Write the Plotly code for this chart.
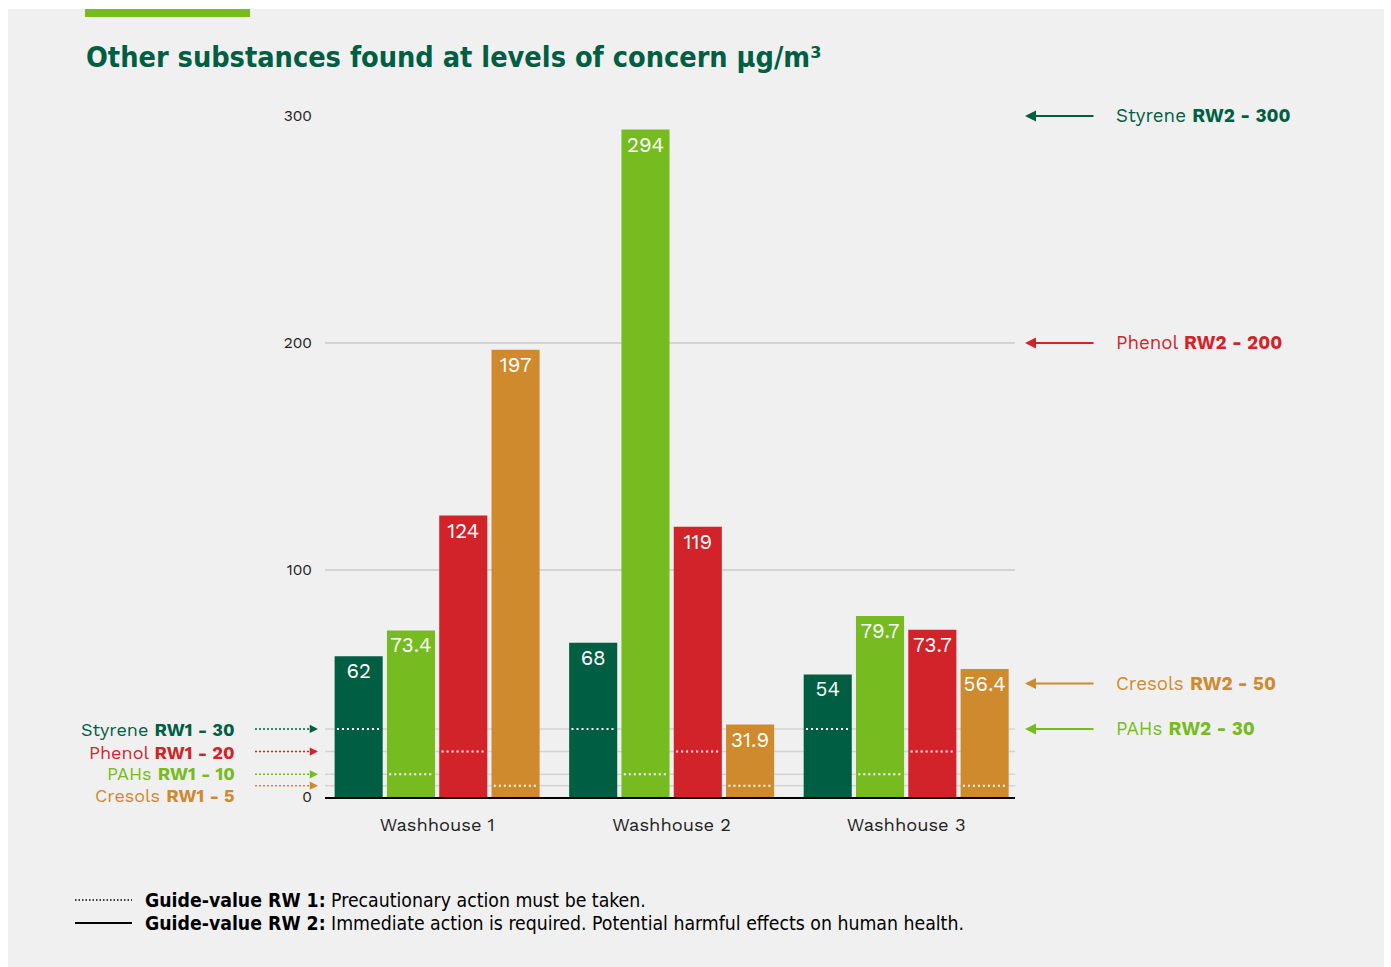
import plotly.graph_objects as go

# ---- data -------------------------------------------------------------
washhouses = ["Washhouse 1", "Washhouse 2", "Washhouse 3"]
substances = ["Styrene", "PAHs", "Phenol", "Cresols"]
styrene = [62, 68, 54]
pahs = [73.4, 294, 79.7]
phenol = [124, 119, 73.7]
cresols = [197, 31.9, 56.4]
values = [styrene, pahs, phenol, cresols]

# guide values (µg/m³)
rw1 = [30, 10, 20, 5]      # precautionary
rw2 = [300, 30, 200, 50]   # immediate action

colors = ["#005e42", "#76bc21", "#d2232a", "#d08a2e"]
y_ticks = [0, 100, 200, 300]

# ---- geometry helpers ---------------------------------------------------
BAR_W = 0.205
SLOT = 0.223
FIRST = -(3 * SLOT + BAR_W) / 2

BODY = "Work Sans, Inter, Open Sans, sans-serif"
COND = "Liberation Sans Narrow, DejaVu Sans Condensed, Roboto, sans-serif"

L, R, T, B = 325, 376, 116, 170
W, H = 1391, 967
PW = W - L - R


def px_to_paper_x(px):
    return (px - L) / PW


def px_to_paper_y(py):
    return (H - py - B) / (H - T - B)


fig = go.Figure()

cat_idx = list(range(len(washhouses)))
for i, (name, vals, col) in enumerate(zip(substances, values, colors)):
    fig.add_trace(go.Bar(
        x=cat_idx, y=vals, name=name,
        width=BAR_W, offset=FIRST + i * SLOT,
        marker=dict(color=col, line=dict(width=0)),
        text=[f"{v:g}" for v in vals],
        textposition="inside", insidetextanchor="end",
        textangle=0, constraintext="none",
        textfont=dict(color="white", size=20.5, family=BODY),
        showlegend=False, hoverinfo="skip",
    ))

shapes = []
annotations = []

# gray panel + green accent strip
shapes.append(dict(type="rect", xref="paper", yref="paper", layer="below",
                   x0=px_to_paper_x(8), x1=px_to_paper_x(1384),
                   y0=px_to_paper_y(H), y1=px_to_paper_y(9),
                   fillcolor="#f0f0f0", line=dict(width=0)))
shapes.append(dict(type="rect", xref="paper", yref="paper", layer="above",
                   x0=px_to_paper_x(85), x1=px_to_paper_x(250),
                   y0=px_to_paper_y(17), y1=px_to_paper_y(9),
                   fillcolor="#76bc21", line=dict(width=0)))

# light gridlines for the RW1 levels
for lvl in sorted(set(rw1)):
    shapes.append(dict(type="line", xref="paper", yref="y", layer="below",
                       x0=0, x1=1, y0=lvl, y1=lvl,
                       line=dict(color="#d3d3d3", width=1.5)))

# dotted RW1 marks inside every bar of the matching substance
for i, lvl in enumerate(rw1):
    for c in cat_idx:
        x0 = c + FIRST + i * SLOT
        shapes.append(dict(type="line", xref="x", yref="y", layer="above",
                           x0=x0 + 0.01, x1=x0 + BAR_W - 0.01, y0=lvl, y1=lvl,
                           line=dict(color="white", width=2, dash="2px,3px")))

# left-hand RW1 labels with dotted arrows
left_shift = [-1, 1, -1, -10]
order = [0, 2, 1, 3]  # Styrene, Phenol, PAHs, Cresols
for i in order:
    lvl, col, name = rw1[i], colors[i], substances[i]
    shapes.append(dict(type="line", xref="paper", yref="y",
                       x0=px_to_paper_x(255), x1=px_to_paper_x(312),
                       y0=lvl, y1=lvl,
                       line=dict(color=col, width=1.5, dash="2px,2px")))
    annotations.append(dict(xref="paper", yref="y", x=px_to_paper_x(318), y=lvl,
                            ax=-6, ay=0, text="", showarrow=True,
                            arrowhead=2, arrowsize=1.1, arrowwidth=1.5,
                            arrowcolor=col, standoff=0))
    annotations.append(dict(xref="paper", yref="y", x=px_to_paper_x(237), y=lvl,
                            xanchor="right", yanchor="middle", showarrow=False,
                            yshift=left_shift[i],
                            text=f"{name} <b>RW1 - {lvl}</b>",
                            font=dict(color=col, size=18, family=BODY)))

# right-hand RW2 labels with solid arrows
for i, (lvl, col, name) in enumerate(zip(rw2, colors, substances)):
    annotations.append(dict(xref="paper", yref="y", x=px_to_paper_x(1025), y=lvl,
                            ax=70, ay=0, text="", showarrow=True,
                            arrowhead=2, arrowsize=1.1, arrowwidth=2,
                            arrowcolor=col, standoff=0))
    annotations.append(dict(xref="paper", yref="y", x=px_to_paper_x(1114), y=lvl,
                            xanchor="left", yanchor="middle", showarrow=False,
                            text=f"{name} <b>RW2 - {lvl}</b>",
                            font=dict(color=col, size=18.7, family=BODY)))

# title
annotations.append(dict(xref="paper", yref="paper",
                        x=px_to_paper_x(84), y=px_to_paper_y(57),
                        xanchor="left", yanchor="middle", showarrow=False,
                        text="<b>Other substances found at levels of concern µg/m³</b>",
                        font=dict(color="#005e42", size=28.6, family=COND)))

# guide-value key
key_rows = [
    (900, "dot", "<b>Guide-value RW 1:</b> Precautionary action must be taken."),
    (923, "solid", "<b>Guide-value RW 2:</b> Immediate action is required. "
                   "Potential harmful effects on human health."),
]
for ypx, dash, txt in key_rows:
    yp = px_to_paper_y(ypx)
    shapes.append(dict(type="line", xref="paper", yref="paper",
                       x0=px_to_paper_x(75), x1=px_to_paper_x(132), y0=yp, y1=yp,
                       line=dict(color="black", width=1.5 if dash == "dot" else 2,
                                 dash="1.5px,2px" if dash == "dot" else "solid")))
    annotations.append(dict(xref="paper", yref="paper", x=px_to_paper_x(143), y=yp,
                            xanchor="left", yanchor="middle", showarrow=False,
                            text=txt, font=dict(color="black", size=19.3, family=COND)))

fig.update_layout(
    width=W, height=H,
    margin=dict(l=L, r=R, t=T, b=B, pad=0),
    paper_bgcolor="white",
    plot_bgcolor="rgba(0,0,0,0)",
    barmode="overlay",
    shapes=shapes,
    annotations=annotations,
    xaxis=dict(range=[-0.478, 2.464], tickmode="array", tickvals=cat_idx,
               ticktext=washhouses, showgrid=False, zeroline=False,
               showline=True, linecolor="black", linewidth=2,
               ticks="", ticklabelstandoff=10,
               tickfont=dict(size=18.3, color="#222222", family=BODY)),
    yaxis=dict(range=[0, 300], tickmode="array", tickvals=y_ticks,
               ticktext=[str(v) for v in y_ticks],
               showgrid=True, gridcolor="#d3d3d3", gridwidth=1.5,
               zeroline=False, showline=False, ticks="",
               ticklabelstandoff=12,
               tickfont=dict(size=15.5, color="#222222", family=BODY)),
)

fig.write_html("out.html")
